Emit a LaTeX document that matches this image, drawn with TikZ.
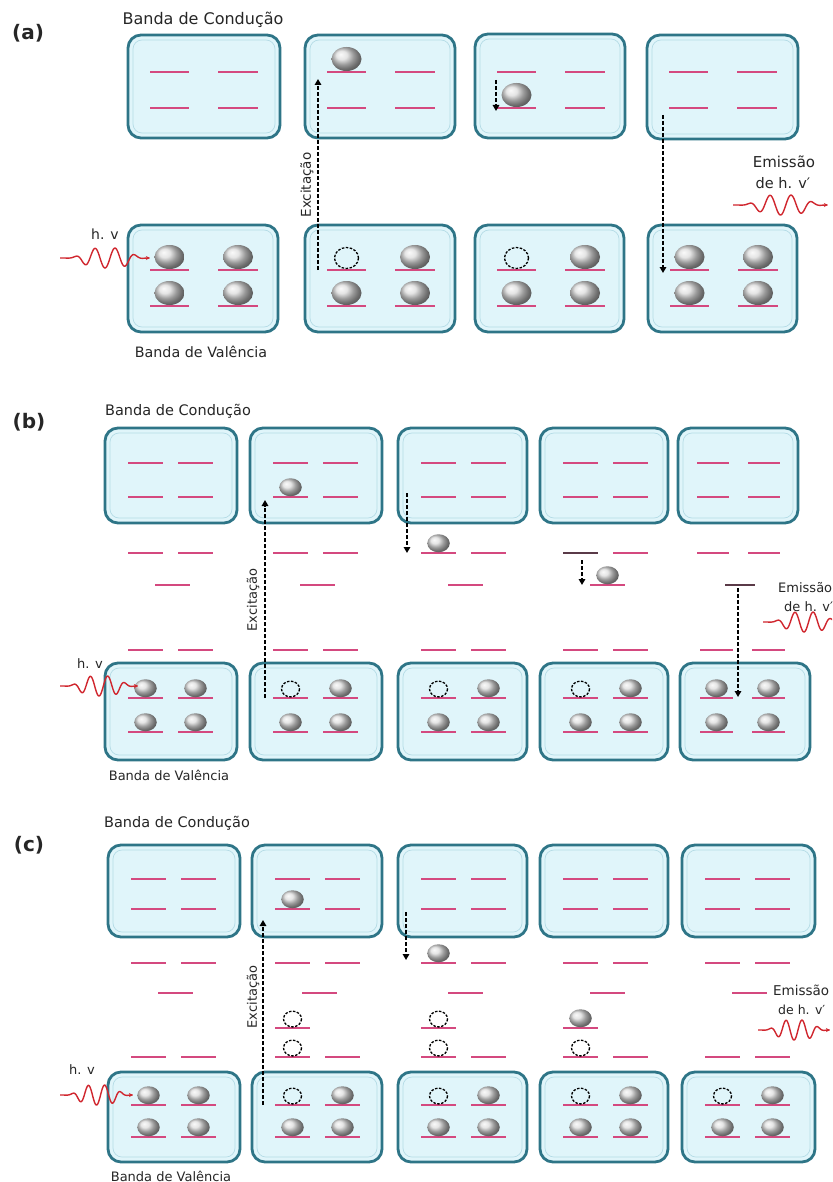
\documentclass[tikz,border=0pt]{standalone}
\usepackage{fontspec}
\setmainfont{DejaVu Sans}
\usetikzlibrary{arrows.meta}
\definecolor{boxfill}{HTML}{E0F5FA}
\definecolor{boxdraw}{HTML}{2E7587}
\definecolor{boxinner}{HTML}{B5DCE6}
\definecolor{pinkc}{HTML}{D4497F}
\definecolor{darkc}{HTML}{5A3A48}
\definecolor{wavered}{HTML}{D0262E}
\definecolor{ballc}{HTML}{DCDCDC}
\newcommand{\Lvl}[4][pinkl]{\draw[#1] (#2,#4) -- (#3,#4);}
\newcommand{\Elec}[3][1]{\shade[ball color=ballc] (#2,{#3-13*#1}) ellipse ({15*#1} and {12*#1});}
\newcommand{\Hole}[3][1]{\draw[holec] (#2,{#3-12*#1}) ellipse ({12*#1} and {10.5*#1});}
\newcommand{\Wv}[3]{\draw[wavec] plot[domain=0:1, samples=200, smooth] ({#1+(#2-#1)*\x},{#3+10*exp(-((\x-0.52)/0.3)^4)*sin(1620*\x)});}
\newcommand{\BandBox}[5]{%
  \node[bandbox, minimum width={(#4-#2)*1pt}, minimum height={(#5-#3)*1pt}] (#1) at ({(#2+#4)/2},{(#3+#5)/2}) {};
  \draw[bandinner] ([shift={(5,5)}]#1.north west) rectangle ([shift={(-5,-5)}]#1.south east);}
\tikzset{
  bandbox/.style={draw=boxdraw, fill=boxfill, line width=2.8pt, rounded corners=13pt, inner sep=0pt, outer sep=0pt, rectangle},
  bandinner/.style={draw=boxinner, line width=0.7pt, rounded corners=9pt},
  pinkl/.style={draw=pinkc, line width=1.7pt},
  darkl/.style={draw=darkc, line width=1.7pt},
  holec/.style={draw=black, line width=1.3pt, dash pattern=on 2.5pt off 1.5pt},
  wavec/.style={draw=wavered, line width=1.4pt, -{Stealth[length=4pt,width=4pt]}},
  dasharrow/.style={draw=black, line width=1.5pt, dash pattern=on 4pt off 2pt, -{Triangle[length=6pt,width=6.5pt]}},
  txt/.style={inner sep=0pt, text=black!85},
  panellbl/.style={txt, font=\fontsize{20}{22}\selectfont\bfseries},
}
\begin{document}
\begin{tikzpicture}[x=1pt, y=-1pt]
\useasboundingbox (0,0) rectangle (832,1182);
\clip (0,0) rectangle (832,1182);
\fill[white] (0,0) rectangle (832,1182);
% ================= (a)
\BandBox{at1}{128}{35}{280}{138}
\BandBox{at2}{305}{35}{455}{138}
\BandBox{at3}{475}{34}{625}{138}
\BandBox{at4}{647}{35}{798}{139}
\BandBox{ab1}{128}{225}{278}{332}
\BandBox{ab2}{305}{225}{455}{332}
\BandBox{ab3}{475}{225}{624}{332}
\BandBox{ab4}{648}{225}{797}{332}
\foreach \L in {128,305,475,647}{\foreach \yy in {72,108}{\Lvl{\L+22}{\L+61}{\yy}\Lvl{\L+90}{\L+130}{\yy}}}
\foreach \L in {128,305,475,648}{\foreach \yy in {270,306}{\Lvl{\L+22}{\L+61}{\yy}\Lvl{\L+90}{\L+130}{\yy}}}
\Elec{169.5}{270}\Elec{238}{270}\Elec{169.5}{306}\Elec{238}{306}
\Hole{346.5}{270}\Elec{415}{270}\Elec{346.5}{306}\Elec{415}{306}
\Hole{516.5}{270}\Elec{585}{270}\Elec{516.5}{306}\Elec{585}{306}
\Elec{689.5}{270}\Elec{758}{270}\Elec{689.5}{306}\Elec{758}{306}
\Elec{346.5}{72}
\Elec{516.5}{108}
\coordinate (aex0) at (318,270); \coordinate (aex1) at (318,79);
\coordinate (ad0) at (496,80); \coordinate (ad1) at (496,111);
\coordinate (aem0) at (663,115); \coordinate (aem1) at (663,273);
\draw[dasharrow] (aex0) -- (aex1);
\draw[dasharrow] (ad0) -- (ad1);
\draw[dasharrow] (aem0) -- (aem1);
\node[panellbl] (la) at (28,33) {(a)};
\node[txt, font=\fontsize{16}{18}\selectfont] (acond) at (203,20) {Banda de Condução};
\node[txt, font=\fontsize{14.3}{16}\selectfont] (aval) at (201,352) {Banda de Valência};
\node[txt, font=\fontsize{13.5}{15}\selectfont, rotate=90] (aexc) at (307,185) {Excitação};
\node[txt, font=\fontsize{14}{16}\selectfont] (ahv) at (105,234) {h. v};
\Wv{60}{150}{258}
\node[txt, font=\fontsize{15}{17}\selectfont] (aemi) at (784,162) {Emissão};
\node[txt, font=\fontsize{14.5}{17}\selectfont] (aemi2) at (783,183) {de h. v′};
\Wv{733}{828}{205}
% ================= (b)
\BandBox{bt1}{105}{428}{237}{523}
\BandBox{bt2}{250}{428}{382}{523}
\BandBox{bt3}{398}{428}{527}{523}
\BandBox{bt4}{540}{428}{668}{523}
\BandBox{bt5}{678}{428}{798}{523}
\BandBox{bb1}{105}{663}{237}{760}
\BandBox{bb2}{250}{663}{382}{760}
\BandBox{bb3}{398}{663}{527}{760}
\BandBox{bb4}{540}{663}{668}{760}
\BandBox{bb5}{680}{663}{810}{760}
\foreach \L in {105,250,398,540}{\foreach \yy in {463,497,650,698,732}{\Lvl{\L+23}{\L+58}{\yy}\Lvl{\L+73}{\L+108}{\yy}}
  \Lvl{\L+50}{\L+85}{585}}
\foreach \L in {105,250,398}{\Lvl{\L+23}{\L+58}{553}\Lvl{\L+73}{\L+108}{553}}
\Lvl[darkl]{563}{598}{553}\Lvl{613}{648}{553}
\foreach \yy in {463,497,553}{\Lvl{697}{729}{\yy}\Lvl{748}{780}{\yy}}
\foreach \yy in {650,698,732}{\Lvl{700}{733}{\yy}\Lvl{752}{785}{\yy}}
\Lvl[darkl]{725}{755}{585}
\Elec[0.75]{290.5}{497}
\Elec[0.75]{438.5}{553}
\Elec[0.75]{607.5}{585}
\Elec[0.75]{145.5}{698}\Elec[0.75]{195.5}{698}\Elec[0.75]{145.5}{732}\Elec[0.75]{195.5}{732}
\Hole[0.75]{290.5}{698}\Elec[0.75]{340.5}{698}\Elec[0.75]{290.5}{732}\Elec[0.75]{340.5}{732}
\Hole[0.75]{438.5}{698}\Elec[0.75]{488.5}{698}\Elec[0.75]{438.5}{732}\Elec[0.75]{488.5}{732}
\Hole[0.75]{580.5}{698}\Elec[0.75]{630.5}{698}\Elec[0.75]{580.5}{732}\Elec[0.75]{630.5}{732}
\Elec[0.75]{716.5}{698}\Elec[0.75]{768.5}{698}\Elec[0.75]{716.5}{732}\Elec[0.75]{768.5}{732}
\coordinate (bex0) at (265,698); \coordinate (bex1) at (265,500);
\coordinate (bd0) at (407,493); \coordinate (bd1) at (407,553);
\coordinate (be0) at (582,560); \coordinate (be1) at (582,585);
\coordinate (bem0) at (738,588); \coordinate (bem1) at (738,697);
\draw[dasharrow] (bex0) -- (bex1);
\draw[dasharrow] (bd0) -- (bd1);
\draw[dasharrow] (be0) -- (be1);
\draw[dasharrow] (bem0) -- (bem1);
\node[panellbl] (lb) at (29,422) {(b)};
\node[txt, font=\fontsize{14.5}{16}\selectfont] (bcond) at (178,411) {Banda de Condução};
\node[txt, font=\fontsize{13}{15}\selectfont] (bval) at (169,775) {Banda de Valência};
\node[txt, font=\fontsize{13}{15}\selectfont, rotate=90] (bexc) at (253,600) {Excitação};
\node[txt, font=\fontsize{13}{15}\selectfont] (bhv) at (90,664) {h. v};
\Wv{60}{138}{686}
\node[txt, anchor=west, font=\fontsize{13}{15}\selectfont] (bemi) at (778,588) {Emissão};
\node[txt, anchor=west, font=\fontsize{13}{15}\selectfont] (bemi2) at (784,607) {de h. v′};
\Wv{763}{845}{622}
% ================= (c)
\BandBox{ct1}{108}{845}{240}{937}
\BandBox{ct2}{252}{845}{382}{937}
\BandBox{ct3}{398}{845}{527}{937}
\BandBox{ct4}{540}{845}{668}{937}
\BandBox{ct5}{682}{845}{815}{937}
\BandBox{cb1}{108}{1072}{240}{1162}
\BandBox{cb2}{252}{1072}{382}{1162}
\BandBox{cb3}{398}{1072}{527}{1162}
\BandBox{cb4}{540}{1072}{668}{1162}
\BandBox{cb5}{682}{1072}{815}{1162}
\foreach \L in {108,252,398,540,682}{\foreach \yy in {879,909,963,1057,1105,1137}{\Lvl{\L+23}{\L+58}{\yy}\Lvl{\L+73}{\L+108}{\yy}}
  \Lvl{\L+50}{\L+85}{993}}
\foreach \L in {252,398,540}{\Lvl{\L+23}{\L+58}{1028}}
\Elec[0.75]{292.5}{909}
\Elec[0.75]{438.5}{963}
\Hole[0.75]{292.5}{1028}\Hole[0.75]{292.5}{1057}
\Hole[0.75]{438.5}{1028}\Hole[0.75]{438.5}{1057}
\Elec[0.75]{580.5}{1028}\Hole[0.75]{580.5}{1057}
\Elec[0.75]{148.5}{1105}\Elec[0.75]{198.5}{1105}\Elec[0.75]{148.5}{1137}\Elec[0.75]{198.5}{1137}
\Hole[0.75]{292.5}{1105}\Elec[0.75]{342.5}{1105}\Elec[0.75]{292.5}{1137}\Elec[0.75]{342.5}{1137}
\Hole[0.75]{438.5}{1105}\Elec[0.75]{488.5}{1105}\Elec[0.75]{438.5}{1137}\Elec[0.75]{488.5}{1137}
\Hole[0.75]{580.5}{1105}\Elec[0.75]{630.5}{1105}\Elec[0.75]{580.5}{1137}\Elec[0.75]{630.5}{1137}
\Hole[0.75]{722.5}{1105}\Elec[0.75]{772.5}{1105}\Elec[0.75]{722.5}{1137}\Elec[0.75]{772.5}{1137}
\coordinate (cex0) at (263,1105); \coordinate (cex1) at (263,920);
\coordinate (cd0) at (406,912); \coordinate (cd1) at (406,960);
\draw[dasharrow] (cex0) -- (cex1);
\draw[dasharrow] (cd0) -- (cd1);
\node[panellbl] (lc) at (29,845) {(c)};
\node[txt, font=\fontsize{14.5}{16}\selectfont] (ccond) at (177,823) {Banda de Condução};
\node[txt, font=\fontsize{13}{15}\selectfont] (cval) at (171,1176) {Banda de Valência};
\node[txt, font=\fontsize{13}{15}\selectfont, rotate=90] (cexc) at (253,997) {Excitação};
\node[txt, font=\fontsize{13}{15}\selectfont] (chv) at (82,1070) {h. v};
\Wv{60}{133}{1095}
\node[txt, anchor=west, font=\fontsize{13.5}{15}\selectfont] (cemi) at (773,990) {Emissão};
\node[txt, anchor=west, font=\fontsize{12.5}{15}\selectfont] (cemi2) at (778,1010) {de h. v′};
\Wv{758}{830}{1030}
\end{tikzpicture}
\end{document}
